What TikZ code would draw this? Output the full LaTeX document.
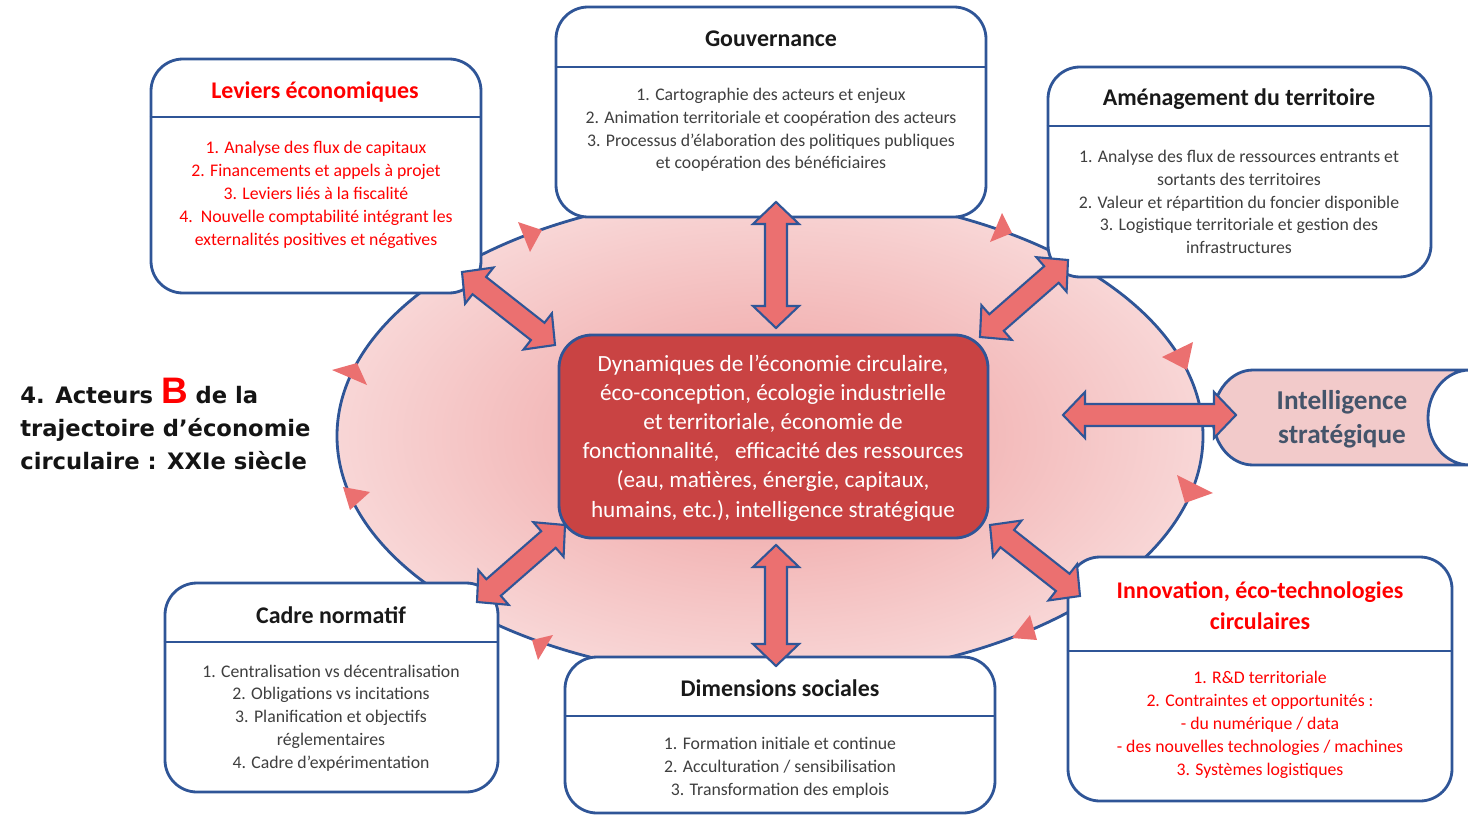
\documentclass[tikz,border=0pt]{standalone}
\usepackage{fontspec}
\setmainfont{Carlito}
\newfontfamily\vfont{DejaVu Sans}
\newfontfamily\afont{Liberation Sans}
\usetikzlibrary{calc,fit}
\definecolor{bblue}{HTML}{2F5597}
\definecolor{salmon}{HTML}{EB7070}
\definecolor{cred}{HTML}{C94343}
\definecolor{ellin}{HTML}{EE9E9E}
\definecolor{ellout}{HTML}{F8D6D6}
\definecolor{txtgray}{HTML}{3F3F3F}
\definecolor{intelfill}{HTML}{F2CACA}
\definecolor{inteltxt}{HTML}{44546A}
\definecolor{pured}{HTML}{FF0000}
\def\ahl{0.44cm}
\def\ahw{0.46cm}
\def\asw{0.22cm}
\newcommand\dblarrow[2]{%
\draw[blockarrow] (#1)
 -- ($(#1)!\ahl!(#2)!\ahw!90:(#2)$)
 -- ($(#1)!\ahl!(#2)!\asw!90:(#2)$)
 -- ($(#2)!\ahl!(#1)!\asw!-90:(#1)$)
 -- ($(#2)!\ahl!(#1)!\ahw!-90:(#1)$)
 -- (#2)
 -- ($(#2)!\ahl!(#1)!\ahw!90:(#1)$)
 -- ($(#2)!\ahl!(#1)!\asw!90:(#1)$)
 -- ($(#1)!\ahl!(#2)!\asw!-90:(#2)$)
 -- ($(#1)!\ahl!(#2)!\ahw!-90:(#2)$)
 -- cycle;}
\tikzset{
 box/.style={draw=bblue, line width=1.6pt, fill=white, rounded corners=0.64cm, inner sep=0pt},
 divider/.style={draw=bblue, line width=1.6pt},
 ttl/.style={font=\fontsize{13.6}{17.5}\selectfont\bfseries, text=black!90, align=center},
 body/.style={font=\fontsize{10.1}{13}\selectfont, text=txtgray, align=center},
 redtxt/.style={text=pured},
 blockarrow/.style={fill=salmon, draw=bblue, line width=1.2pt, line join=miter},
 tri/.style={fill=salmon},
}
\begin{document}
\begin{tikzpicture}[x=0.02cm,y=-0.02cm]
\useasboundingbox (0,0) rectangle (1468,815);
% big ellipse
\path[draw=bblue, line width=1.6pt, shade, inner color=ellin, outer color=ellout] (770,436) ellipse [x radius=433, y radius=243];
% small arrowheads on the ellipse
\fill[tri] (518,222) -- (542,230) -- (530,252) -- cycle;
\fill[tri] (1002,213) -- (1012,233) -- (990,242) -- cycle;
\fill[tri] (1162,357) -- (1193,342) -- (1187,370) -- cycle;
\fill[tri] (1177,475) -- (1213,493) -- (1185,503) -- cycle;
\fill[tri] (332,370) -- (357,363) -- (367,385) -- cycle;
\fill[tri] (343,487) -- (370,492) -- (350,510) -- cycle;
\fill[tri] (532,640) -- (553,635) -- (538,660) -- cycle;
\fill[tri] (1012,638) -- (1030,615) -- (1037,640) -- cycle;
% boxes
\node[box, fit={(151,59) (481,293)}] (lev) {};
\draw[divider] (lev.west |- 0,117) -- (lev.east |- 0,117);
\node[ttl, redtxt] (levt) at (315,92) {Leviers économiques};
\node[body, redtxt] (levb) at (316,195) {1. Analyse des flux de capitaux\\2. Financements et appels à projet\\3. Leviers liés à la fiscalité\\4.\ \ Nouvelle comptabilité intégrant les\\externalités positives et négatives};

\node[box, fit={(556,7) (986,217)}] (gouv) {};
\draw[divider] (gouv.west |- 0,67) -- (gouv.east |- 0,67);
\node[ttl] (gouvt) at (771,39) {Gouvernance};
\node[body] (gouvb) at (771,130) {1. Cartographie des acteurs et enjeux\\2. Animation territoriale et coopération des acteurs\\3. Processus d’élaboration des politiques publiques\\et coopération des bénéficiaires};

\node[box, fit={(1048,67) (1431,277)}] (amen) {};
\draw[divider] (amen.west |- 0,126) -- (amen.east |- 0,126);
\node[ttl] (ament) at (1239,99) {Aménagement du territoire};
\node[body] (amenb) at (1239,202) {1. Analyse des flux de ressources entrants et\\sortants des territoires\\2. Valeur et répartition du foncier disponible\\3. Logistique territoriale et gestion des\\infrastructures};

\node[box, fit={(165,583) (498,792)}] (cadre) {};
\draw[divider] (cadre.west |- 0,642) -- (cadre.east |- 0,642);
\node[ttl] (cadret) at (331,615) {Cadre normatif};
\node[body] (cadreb) at (331,718) {1. Centralisation vs décentralisation\\2. Obligations vs incitations\\3. Planification et objectifs\\réglementaires\\4. Cadre d’expérimentation};

\node[box, fit={(565,657) (995,813)}] (dim) {};
\draw[divider] (dim.west |- 0,716) -- (dim.east |- 0,716);
\node[ttl] (dimt) at (780,688) {Dimensions sociales};
\node[body] (dimb) at (780,768) {1. Formation initiale et continue\\2. Acculturation / sensibilisation\\3. Transformation des emplois};

\node[box, fit={(1068,557) (1452,801)}] (innov) {};
\draw[divider] (innov.west |- 0,651) -- (innov.east |- 0,651);
\node[ttl, redtxt] (innovt) at (1260,606) {Innovation, éco-technologies\\circulaires};
\node[body, redtxt] (innovb) at (1260,725) {1. R\&D territoriale\\2. Contraintes et opportunités :\\- du numérique / data\\- des nouvelles technologies / machines\\3. Systèmes logistiques};

% central box
\node[draw=bblue, line width=1.6pt, fill=cred, rounded corners=0.66cm, inner sep=0pt, fit={(559,335) (988,538)}] (core) {};
\node[font=\fontsize{13.2}{16.6}\selectfont, text=white, align=center] (coret) at (773,438) {Dynamiques de l’économie circulaire,\\éco-conception, écologie industrielle\\et territoriale, économie de\\fonctionnalité,\ \ \ efficacité des ressources\\(eau, matières, énergie, capitaux,\\humains, etc.), intelligence stratégique};

% intelligence strategique
\path[draw=bblue, line width=1.6pt, fill=intelfill] (1253,370) -- (1470,370) .. controls (1446,370) and (1428,392) .. (1428,418) .. controls (1428,444) and (1446,465) .. (1470,465) -- (1253,465) .. controls (1231,465) and (1213,444) .. (1213,418) .. controls (1213,392) and (1231,370) .. (1253,370) -- cycle;
\node[font=\fontsize{15.5}{19.5}\selectfont\bfseries, text=inteltxt, align=center] (intel) at (1342,419) {Intelligence\\stratégique};

% title
\node[anchor=west, align=left, font=\vfont\bfseries\fontsize{12.9}{19}\selectfont, text=black!92, inner sep=0pt] (title) at (20,424) {4. Acteurs {\afont\bfseries\fontsize{21}{19}\selectfont\color{pured}B} de la\\trajectoire d’économie\\circulaire : XXIe siècle};

% arrow end points
\coordinate (a1s) at (462,272); \coordinate (a1e) at (555,345);
\coordinate (a2s) at (1068,260); \coordinate (a2e) at (980,337);
\coordinate (a3s) at (477,602); \coordinate (a3e) at (565,525);
\coordinate (a4s) at (1080,596); \coordinate (a4e) at (990,525);
\coordinate (a5s) at (776,202); \coordinate (a5e) at (776,328);
\coordinate (a6s) at (776,545); \coordinate (a6e) at (776,666);
\coordinate (a7s) at (1063,415); \coordinate (a7e) at (1236,415);
\dblarrow{a1s}{a1e}
\dblarrow{a2s}{a2e}
\dblarrow{a3s}{a3e}
\dblarrow{a4s}{a4e}
\dblarrow{a5s}{a5e}
\dblarrow{a6s}{a6e}
\dblarrow{a7s}{a7e}
\end{tikzpicture}
\end{document}
